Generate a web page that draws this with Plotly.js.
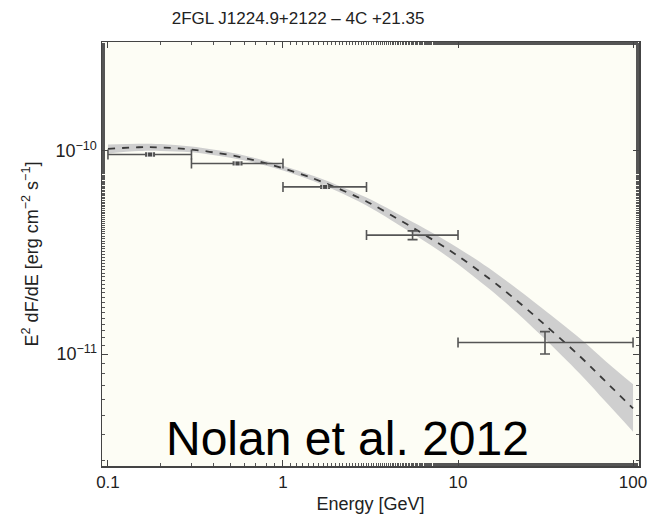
<!DOCTYPE html>
<html>
<head>
<meta charset="utf-8">
<script src="https://cdn.plot.ly/plotly-3.0.1.min.js"></script>
<style>html,body{margin:0;padding:0;background:#fff;}#chart{width:648px;height:517px;}</style>
</head>
<body>
<div id="chart"></div>
<script>
// Model curve (log-parabola)
const modelE = [0.1, 0.15, 0.2, 0.3, 0.5, 0.7, 1, 1.5, 2, 3, 5, 7, 10, 15, 20, 30, 50, 70, 100];
const modelF = [1.023e-10, 1.042e-10, 1.040e-10, 1.016e-10, 9.53e-11, 8.95e-11, 8.22e-11, 7.30e-11, 6.61e-11, 5.64e-11, 4.40e-11, 3.70e-11, 3.04e-11, 2.36e-11, 1.94e-11, 1.44e-11, 9.70e-12, 7.30e-12, 5.40e-12];
const bandUpper = [1.075e-10, 1.085e-10, 1.080e-10, 1.050e-10, 9.82e-11, 9.20e-11, 8.45e-11, 7.52e-11, 6.84e-11, 5.90e-11, 4.68e-11, 3.99e-11, 3.33e-11, 2.65e-11, 2.21e-11, 1.69e-11, 1.19e-11, 9.20e-12, 7.10e-12];
const bandLower = [0.972e-10, 0.998e-10, 1.000e-10, 0.984e-10, 9.25e-11, 8.71e-11, 8.00e-11, 7.09e-11, 6.39e-11, 5.39e-11, 4.13e-11, 3.43e-11, 2.77e-11, 2.10e-11, 1.70e-11, 1.23e-11, 7.95e-12, 5.80e-12, 4.15e-12];

// Binned SED points
const ptE    = [0.174, 0.55, 1.74, 5.5, 31.4];
const ptElo  = [0.1, 0.3, 1, 3, 10];
const ptEhi  = [0.3, 1, 3, 10, 100];
const ptF    = [9.6e-11, 8.67e-11, 6.65e-11, 3.85e-11, 1.14e-11];
const ptFup  = [9.75e-11, 8.8e-11, 6.75e-11, 4.04e-11, 1.29e-11];
const ptFlo  = [9.45e-11, 8.55e-11, 6.55e-11, 3.66e-11, 1.00e-11];

const yTickVals = [1e-11, 1e-10];
const yTickText = ['10<sup>−11</sup>', '10<sup>−10</sup>'];
const xTickVals = [0.1, 1, 10, 100];
const xTickText = ['0.1', '1', '10', '100'];

const traces = [
  {x: modelE, y: bandLower, type: 'scatter', mode: 'lines', line: {width: 0, color: 'rgba(0,0,0,0)', shape: 'spline'}, hoverinfo: 'skip', showlegend: false},
  {x: modelE, y: bandUpper, type: 'scatter', mode: 'lines', fill: 'tonexty', fillcolor: '#cfcfcf', line: {width: 0, color: 'rgba(0,0,0,0)', shape: 'spline'}, hoverinfo: 'skip', showlegend: false},
  {x: modelE, y: modelF, type: 'scatter', mode: 'lines', line: {color: '#3a3a3a', width: 1.8, dash: '7px,7px', shape: 'spline'}, showlegend: false},
  {x: ptE, y: ptF, type: 'scatter', mode: 'markers',
   marker: {symbol: 'square', size: [5, 5, 5, 0, 0], color: '#444'},
   error_x: {type: 'data', symmetric: false,
     array: ptEhi.map((h, i) => h - ptE[i]), arrayminus: ptElo.map((l, i) => ptE[i] - l),
     color: '#555', thickness: 1.6, width: 5},
   error_y: {type: 'data', symmetric: false,
     array: ptFup.map((u, i) => u - ptF[i]), arrayminus: ptFlo.map((l, i) => ptF[i] - l),
     color: '#555', thickness: 1.6, width: 5},
   showlegend: false}
];

const FONT = 'Liberation Sans, Arial, sans-serif';
const axisCommon = {
  showline: true, linecolor: '#444', linewidth: 1.5, mirror: 'ticks',
  ticks: 'inside', ticklen: 6, tickcolor: '#444', tickwidth: 1,
  showgrid: false, zeroline: false,
  minor: {ticks: 'inside', ticklen: 3, tickcolor: '#555', tickwidth: 1, showgrid: false}
};

const layout = {
  width: 648, height: 517,
  margin: {l: 102, r: 9, t: 42, b: 51},
  paper_bgcolor: '#ffffff', plot_bgcolor: '#fdfdf5',
  title: {text: '2FGL J1224.9+2122 – 4C +21.35', x: 0.46, xanchor: 'center', y: 0.966, yanchor: 'middle',
          font: {family: FONT, size: 17, color: '#222'}},
  xaxis: Object.assign({}, axisCommon, {
    type: 'log', range: [-1.034, 2.034], tickvals: xTickVals, ticktext: xTickText,
    tickfont: {family: FONT, size: 17, color: '#222'},
    title: {text: 'Energy [GeV]', standoff: 6, font: {family: FONT, size: 18, color: '#222'}}
  }),
  yaxis: Object.assign({}, axisCommon, {
    type: 'log', range: [-11.551, -9.464], tickvals: yTickVals, ticktext: yTickText,
    tickfont: {family: FONT, size: 18, color: '#222'},
    title: {text: 'E<sup>2</sup> dF/dE [erg cm<sup>−2</sup> s<sup>−1</sup>]', standoff: 12, font: {family: FONT, size: 18, color: '#222'}}
  }),
  annotations: [{
    text: 'Nolan et al. 2012', xref: 'paper', yref: 'paper', x: 0.458, y: 0.064,
    xanchor: 'center', yanchor: 'middle', showarrow: false,
    font: {family: FONT, size: 48, color: '#000'}
  }],
  showlegend: false
};

Plotly.newPlot('chart', traces, layout, {displayModeBar: false, staticPlot: true});
</script>
</body>
</html>
